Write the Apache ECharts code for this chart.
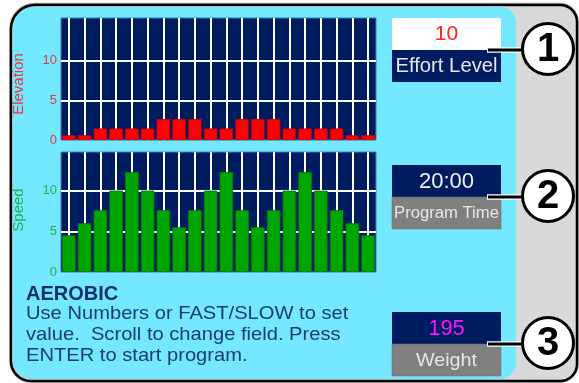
<!DOCTYPE html>
<html>
<head>
<meta charset="utf-8">
<script src="https://cdn.jsdelivr.net/npm/echarts@6/dist/echarts.min.js"></script>
<style>
html,body{margin:0;padding:0;background:#fff;}
#main{width:579px;height:383px;}
</style>
</head>
<body>
<div id="main"></div>
<script>
// ---- data ----
const segments = ['1','2','3','4','5','6','7','8','9','10','11','12','13','14','15','16','17','18','19','20'];
const elevation = [0.6,0.6,1.45,1.45,1.45,1.45,2.65,2.65,2.65,1.45,1.45,2.65,2.65,2.65,1.45,1.45,1.45,1.45,0.6,0.6];
const speed = [4.5,6.0,7.6,10,12.3,10,7.6,5.5,7.6,10,12.3,7.6,5.5,7.6,10,12.3,10,7.6,6.0,4.5];
const yTickLabels = [0, 5, 10];
const axisNames = ['Elevation', 'Speed'];
const fieldValues = ['10', '20:00', '195'];
const fieldNames = ['Effort Level', 'Program Time', 'Weight'];
const calloutNumbers = ['1', '2', '3'];
const titleText = 'AEROBIC';
const bodyLines = ['Use Numbers or FAST/SLOW to set', 'value.  Scroll to change field. Press', 'ENTER to start program.'];

// ---- styles ----
const NAVY = '#001c60';
const CYAN = '#74e8ff';
const GREYBOX = '#808080';
const FONT = 'Liberation Sans, Arial, sans-serif';
const RED_LBL = '#e8383c';
const GREEN_LBL = '#22b04a';

const chart = echarts.init(document.getElementById('main'));

function yAxisFor(gridIndex, max, color) {
  return {
    type: 'value', gridIndex: gridIndex, min: 0, max: max, interval: 5,
    axisLine: {show: false}, axisTick: {show: false},
    axisLabel: {
      color: color, fontSize: 13, fontFamily: FONT, margin: 4,
      formatter: function (v) { return yTickLabels.indexOf(v) >= 0 ? String(v) : ''; }
    },
    splitLine: {show: true, lineStyle: {color: ['rgba(0,0,0,0)', '#ffffff', '#ffffff', 'rgba(0,0,0,0)', 'rgba(0,0,0,0)'], width: 2}}
  };
}
function xAxisFor(gridIndex) {
  return {
    type: 'category', gridIndex: gridIndex, data: segments,
    axisLine: {show: false}, axisTick: {show: false, alignWithLabel: true},
    axisLabel: {show: false},
    splitLine: {show: true, interval: 0, alignWithLabel: true, lineStyle: {color: '#ffffff', width: 2}}
  };
}

const graphics = [];
// frame
graphics.push({type: 'rect', z: -10, shape: {x: 10, y: 3.5, width: 568, height: 378.5, r: [25, 18, 18, 21]}, style: {fill: 'none', stroke: '#a0a0a0', lineWidth: 1.5}});
graphics.push({type: 'rect', z: -9, shape: {x: 11, y: 5, width: 566, height: 376, r: [24, 17, 17, 20]}, style: {fill: '#d9d9d9', stroke: '#000', lineWidth: 2.5}});
graphics.push({type: 'rect', z: -8, shape: {x: 12.5, y: 6.5, width: 503.5, height: 372.5, r: [23, 16, 16, 19]}, style: {fill: CYAN}});

// axis titles (rotated)
graphics.push({type: 'text', z: 10, x: 19, y: 84, rotation: Math.PI / 2, style: {text: axisNames[0], fill: RED_LBL, font: '15px ' + FONT, align: 'center', verticalAlign: 'middle'}});
graphics.push({type: 'text', z: 10, x: 19, y: 210, rotation: Math.PI / 2, style: {text: axisNames[1], fill: GREEN_LBL, font: '15px ' + FONT, align: 'center', verticalAlign: 'middle'}});

// field boxes
const boxTops = [18, 165, 312];
const valueColors = ['#ff2020', '#f0f0f0', '#ff10ff'];
const topFills = ['#ffffff', NAVY, NAVY];
const bottomFills = [NAVY, GREYBOX, GREYBOX];
const nameSizes = [19.5, 16, 19];
for (let i = 0; i < 3; i++) {
  const t = boxTops[i];
  graphics.push({type: 'rect', z: 10, shape: {x: 392, y: t, width: 109, height: 32}, style: {fill: topFills[i]}});
  graphics.push({type: 'rect', z: 10, shape: {x: 392, y: t + 32, width: 109, height: 32}, style: {fill: bottomFills[i], stroke: i ? '#6a6a6a' : null, lineWidth: 0.5}});
  graphics.push({type: 'text', z: 11, x: 446.5, y: t + 16.5, style: {text: fieldValues[i], fill: valueColors[i], font: (i === 0 ? 21 : 22) + 'px ' + FONT, align: 'center', verticalAlign: 'middle'}});
  graphics.push({type: 'text', z: 11, x: 446.5, y: t + 48.5, scaleX: 1.04, style: {text: fieldNames[i], fill: '#e6e6e6', font: nameSizes[i] + 'px ' + FONT, align: 'center', verticalAlign: 'middle'}});
  const ly = t + 32;
  graphics.push({type: 'line', z: 12, shape: {x1: 487, y1: ly, x2: 523, y2: ly}, style: {stroke: '#ffffff', lineWidth: 5.5}});
  graphics.push({type: 'line', z: 13, shape: {x1: 488, y1: ly, x2: 523, y2: ly}, style: {stroke: '#000', lineWidth: 3}});
  graphics.push({type: 'circle', z: 14, shape: {cx: 548, cy: ly - 1, r: 25.5}, style: {fill: '#fff', stroke: '#000', lineWidth: 3}});
  graphics.push({type: 'text', z: 15, x: 548, y: ly, style: {text: calloutNumbers[i], fill: '#000', font: 'bold 40px ' + FONT, align: 'center', verticalAlign: 'middle'}});
}
// description text
graphics.push({type: 'text', z: 10, x: 26, y: 294, style: {text: titleText, fill: '#12306c', font: 'bold 20px ' + FONT, align: 'left', verticalAlign: 'middle'}});
for (let i = 0; i < bodyLines.length; i++) {
  graphics.push({type: 'text', z: 10, x: 26, y: 314 + i * 21, scaleX: 1.06, style: {text: bodyLines[i], fill: '#1a3a78', font: '19px ' + FONT, align: 'left', verticalAlign: 'middle'}});
}

const option = {
  animation: false,
  backgroundColor: '#ffffff',
  grid: [
    {left: 61, top: 18, width: 315, height: 122, show: true, backgroundColor: NAVY, borderColor: '#4f78b0', borderWidth: 1},
    {left: 61, top: 152, width: 315, height: 120, show: true, backgroundColor: NAVY, borderColor: '#4f78b0', borderWidth: 1}
  ],
  xAxis: [xAxisFor(0), xAxisFor(1)],
  yAxis: [yAxisFor(0, 15.4, RED_LBL), yAxisFor(1, 14.75, GREEN_LBL)],
  series: [
    {type: 'bar', name: axisNames[0], xAxisIndex: 0, yAxisIndex: 0, data: elevation, barCategoryGap: '14%',
      itemStyle: {color: '#ff0000', borderColor: '#c00000', borderWidth: 0.8}},
    {type: 'bar', name: axisNames[1], xAxisIndex: 1, yAxisIndex: 1, data: speed, barCategoryGap: '14%',
      itemStyle: {color: '#00a600', borderColor: '#007a00', borderWidth: 0.8}}
  ],
  graphic: {elements: graphics}
};
chart.setOption(option);
</script>
</body>
</html>
